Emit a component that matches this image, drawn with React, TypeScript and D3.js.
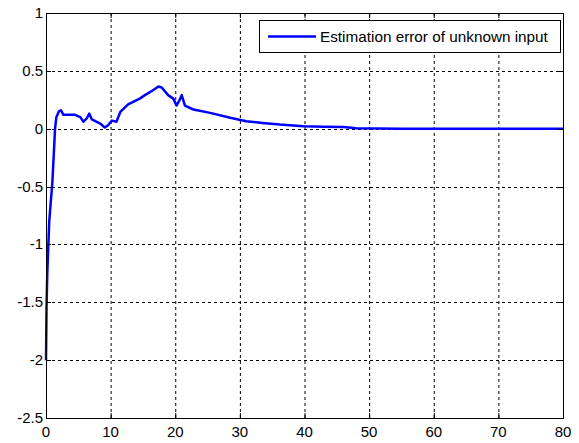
import React, { useEffect, useRef } from 'react';
import * as d3 from 'd3';

// estimation error samples (time, error)
const times = [0, 0.08, 0.2, 0.5, 1.0, 1.4, 1.6, 2.0, 2.3, 2.7, 3.5, 4.5, 5.3, 5.8, 6.3, 6.7, 7.1, 8.4, 9.1, 9.6, 10.2, 10.9, 11.5, 12.7, 14.5, 15.3, 16.5, 17.4, 17.9, 18.9, 19.7, 20.2, 20.6, 21.0, 21.5, 22.8, 25.4, 28.5, 31, 33.5, 36.2, 39.8, 43, 46, 48, 55, 65, 80];
const errors = [-2, -1.55, -1.25, -0.8, -0.45, 0, 0.1, 0.15, 0.16, 0.12, 0.12, 0.12, 0.1, 0.06, 0.09, 0.13, 0.08, 0.045, 0.01, 0.03, 0.07, 0.06, 0.145, 0.21, 0.26, 0.29, 0.33, 0.365, 0.356, 0.29, 0.26, 0.2, 0.24, 0.29, 0.2, 0.166, 0.137, 0.095, 0.065, 0.05, 0.036, 0.022, 0.018, 0.014, 0.004, 0, 0, 0];

const xTicks = [0, 10, 20, 30, 40, 50, 60, 70, 80];
const yTicks = [-2.5, -2, -1.5, -1, -0.5, 0, 0.5, 1];
const legendLabel = 'Estimation error of unknown input';

const W = 579;
const H = 443;

const App: React.FC = () => {
  const svgRef = useRef<SVGSVGElement>(null);

  useEffect(() => {
    if (!svgRef.current) return;
    const svg = d3.select(svgRef.current);
    svg.selectAll('*').remove();

    const left = 46, right = 563, top = 13, bottom = 418;
    const font = 'Liberation Sans, Arial, sans-serif';

    const x = d3.scaleLinear().domain([0, 80]).range([left, right]);
    const y = d3.scaleLinear().domain([-2.5, 1]).range([bottom, top]);

    svg.append('rect').attr('width', W).attr('height', H).attr('fill', '#fff');

    // grid
    svg.append('g')
      .selectAll('line')
      .data(xTicks.slice(1, -1))
      .enter()
      .append('line')
      .attr('x1', d => x(d) + 0.5).attr('x2', d => x(d) + 0.5)
      .attr('y1', top).attr('y2', bottom)
      .attr('stroke', '#000').attr('stroke-dasharray', '3,3');

    svg.append('g')
      .selectAll('line')
      .data(yTicks.slice(1, -1))
      .enter()
      .append('line')
      .attr('y1', d => Math.round(y(d)) + 0.5).attr('y2', d => Math.round(y(d)) + 0.5)
      .attr('x1', left).attr('x2', right)
      .attr('stroke', '#000').attr('stroke-dasharray', '3,3');

    // series
    const pts: [number, number][] = times.map((t, i) => [t, errors[i]]);
    const line = d3.line<[number, number]>().x(d => x(d[0])).y(d => y(d[1]));
    svg.append('path')
      .datum(pts)
      .attr('d', line)
      .attr('fill', 'none')
      .attr('stroke', '#0000ff')
      .attr('stroke-width', 2.5)
      .attr('stroke-linejoin', 'round');

    // frame + ticks
    svg.append('rect')
      .attr('x', left + 0.5).attr('y', top + 0.5)
      .attr('width', right - left).attr('height', bottom - top)
      .attr('fill', 'none').attr('stroke', '#000');

    const tl = 5;
    xTicks.forEach(t => {
      svg.append('line').attr('x1', x(t) + 0.5).attr('x2', x(t) + 0.5)
        .attr('y1', bottom).attr('y2', bottom - tl).attr('stroke', '#000');
      svg.append('line').attr('x1', x(t) + 0.5).attr('x2', x(t) + 0.5)
        .attr('y1', top).attr('y2', top + tl).attr('stroke', '#000');
    });
    yTicks.forEach(t => {
      svg.append('line').attr('y1', Math.round(y(t)) + 0.5).attr('y2', Math.round(y(t)) + 0.5)
        .attr('x1', left).attr('x2', left + tl).attr('stroke', '#000');
      svg.append('line').attr('y1', Math.round(y(t)) + 0.5).attr('y2', Math.round(y(t)) + 0.5)
        .attr('x1', right - tl).attr('x2', right).attr('stroke', '#000');
    });

    svg.append('g')
      .selectAll('text')
      .data(xTicks)
      .enter()
      .append('text')
      .text(d => d)
      .attr('x', d => x(d))
      .attr('y', bottom + 19)
      .attr('text-anchor', 'middle')
      .attr('font-family', font).attr('font-size', 15).attr('fill', '#000');

    svg.append('g')
      .selectAll('text')
      .data(yTicks)
      .enter()
      .append('text')
      .text(d => d)
      .attr('x', left - 3)
      .attr('y', d => y(d) + 5)
      .attr('text-anchor', 'end')
      .attr('font-family', font).attr('font-size', 15).attr('fill', '#000');

    // legend
    const lg = svg.append('g');
    lg.append('rect')
      .attr('x', 259.5).attr('y', 20.5).attr('width', 301).attr('height', 32)
      .attr('fill', '#fff').attr('stroke', '#000');
    lg.append('line')
      .attr('x1', 268).attr('x2', 316).attr('y1', 36.5).attr('y2', 36.5)
      .attr('stroke', '#0000ff').attr('stroke-width', 2.5);
    lg.append('text')
      .text(legendLabel)
      .attr('x', 320).attr('y', 42)
      .attr('font-family', font).attr('font-size', 15.3).attr('fill', '#000');
  }, []);

  return (
    <svg ref={svgRef} width={W} height={H} style={{ position: 'absolute', left: 0, top: 0 }}></svg>
  );
};

export default App;
